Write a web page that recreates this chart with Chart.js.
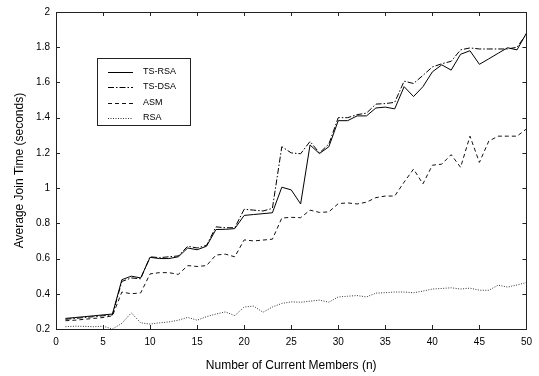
<!DOCTYPE html>
<html>
<head>
<meta charset="utf-8">
<script src="https://cdn.jsdelivr.net/npm/chart.js@4/dist/chart.umd.min.js"></script>
<style>
html,body{margin:0;padding:0;background:#fff;}
#wrap{width:539px;height:376px;}
</style>
</head>
<body>
<div id="wrap"><canvas id="c" width="539" height="376"></canvas></div>
<script>
const members = [1,2,3,4,5,6,7,8,9,10,11,12,13,14,15,16,17,18,19,20,21,22,23,24,25,26,27,28,29,30,31,32,33,34,35,36,37,38,39,40,41,42,43,44,45,46,47,48,49,50];
const tsRsa = [0.26,0.265,0.27,0.275,0.28,0.285,0.48,0.50,0.49,0.607,0.60,0.60,0.61,0.66,0.65,0.67,0.765,0.766,0.77,0.845,0.85,0.855,0.86,1.005,0.99,0.91,1.245,1.196,1.235,1.383,1.383,1.41,1.41,1.455,1.46,1.45,1.576,1.52,1.576,1.66,1.70,1.67,1.76,1.78,1.703,1.734,1.766,1.797,1.785,1.88];
const tsDsa = [0.255,0.26,0.265,0.27,0.275,0.28,0.47,0.49,0.485,0.61,0.605,0.61,0.615,0.67,0.66,0.675,0.78,0.775,0.775,0.88,0.875,0.87,0.885,1.235,1.20,1.195,1.265,1.20,1.25,1.40,1.40,1.417,1.426,1.477,1.48,1.487,1.607,1.594,1.64,1.688,1.706,1.72,1.785,1.796,1.79,1.79,1.79,1.79,1.80,1.875];
const asm = [0.247,0.25,0.255,0.26,0.265,0.275,0.41,0.40,0.405,0.513,0.52,0.52,0.51,0.56,0.555,0.56,0.62,0.625,0.61,0.706,0.70,0.705,0.71,0.83,0.834,0.832,0.875,0.862,0.865,0.912,0.916,0.91,0.92,0.946,0.955,0.955,1.034,1.108,1.024,1.13,1.136,1.19,1.118,1.295,1.146,1.267,1.295,1.295,1.295,1.336];
const rsa = [0.213,0.216,0.215,0.213,0.216,0.2,0.232,0.292,0.235,0.228,0.235,0.24,0.25,0.266,0.25,0.27,0.285,0.297,0.276,0.325,0.33,0.295,0.325,0.345,0.354,0.352,0.358,0.364,0.352,0.382,0.386,0.39,0.382,0.404,0.406,0.41,0.41,0.406,0.415,0.427,0.43,0.434,0.427,0.432,0.42,0.42,0.449,0.438,0.45,0.464];
const seriesNames = ['TS-RSA','TS-DSA','ASM','RSA'];
const xTicks = [0,5,10,15,20,25,30,35,40,45,50];
const yTicks = [0.2,0.4,0.6,0.8,1,1.2,1.4,1.6,1.8,2];
const xTitle = 'Number of Current Members (n)';
const yTitle = 'Average Join Time (seconds)';

const FONT = "'Liberation Sans', Arial, Helvetica, sans-serif";
const pts = arr => members.map((n,i)=>({x:n,y:arr[i]}));
const styles = [
  {borderColor:'#000', borderWidth:1, borderDash:[]},
  {borderColor:'#000', borderWidth:1, borderDash:[6,2,1.5,2]},
  {borderColor:'#111', borderWidth:1, borderDash:[4,3]},
  {borderColor:'#333', borderWidth:1, borderDash:[1,1.5]}
];
const allSeries = [tsRsa, tsDsa, asm, rsa];

const framePlugin = {
  id:'frame',
  afterDraw(chart){
    const {ctx, chartArea:a, scales:{x,y}} = chart;
    ctx.save();
    ctx.strokeStyle = '#222';
    ctx.lineWidth = 1;
    ctx.setLineDash([]);
    ctx.strokeRect(Math.round(a.left)+0.5, Math.round(a.top)+0.5, Math.round(a.right-a.left), Math.round(a.bottom-a.top));
    const L = 4;
    ctx.beginPath();
    x.ticks.forEach(t=>{
      const px = Math.round(x.getPixelForValue(t.value))+0.5;
      ctx.moveTo(px, a.bottom); ctx.lineTo(px, a.bottom-L);
      ctx.moveTo(px, a.top); ctx.lineTo(px, a.top+L);
    });
    y.ticks.forEach(t=>{
      const py = Math.round(y.getPixelForValue(t.value))+0.5;
      ctx.moveTo(a.left, py); ctx.lineTo(a.left+L, py);
      ctx.moveTo(a.right, py); ctx.lineTo(a.right-L, py);
    });
    ctx.stroke();

    // legend box
    const bx = 97.5, by = 58.5, bw = 93, bh = 67;
    ctx.fillStyle = '#fff';
    ctx.fillRect(bx, by, bw, bh);
    ctx.strokeStyle = '#222';
    ctx.strokeRect(bx, by, bw, bh);
    ctx.font = "9px " + FONT;
    ctx.textBaseline = 'middle';
    ctx.fillStyle = '#000';
    chart.data.datasets.forEach((ds,i)=>{
      const ry = 71.5 + i*15.5;
      ctx.beginPath();
      ctx.strokeStyle = ds.borderColor;
      ctx.lineWidth = ds.borderWidth;
      ctx.setLineDash(ds.borderDash);
      ctx.moveTo(108, Math.round(ry)+0.5);
      ctx.lineTo(133, Math.round(ry)+0.5);
      ctx.stroke();
      ctx.setLineDash([]);
      ctx.fillText(ds.label, 143, ry);
    });
    ctx.restore();
  }
};

new Chart(document.getElementById('c'), {
  type:'line',
  data:{
    datasets: allSeries.map((s,i)=>({
      label: seriesNames[i],
      data: pts(s),
      borderColor: styles[i].borderColor,
      borderWidth: styles[i].borderWidth,
      borderDash: styles[i].borderDash,
      pointRadius:0,
      tension:0,
      fill:false,
      clip:false
    }))
  },
  options:{
    responsive:false,
    animation:false,
    devicePixelRatio:1,
    layout:{padding:{left:0,top:9,right:10,bottom:0}},
    plugins:{legend:{display:false}, tooltip:{enabled:false}},
    scales:{
      x:{
        type:'linear', min:0, max:50,
        afterBuildTicks(s){ s.ticks = xTicks.map(v=>({value:v})); },
        afterFit(s){ s.height = 47; },
        grid:{display:false, drawTicks:false},
        border:{display:false},
        ticks:{padding:7, color:'#000', font:{family:FONT,size:10}, maxRotation:0, autoSkip:false,
          callback:v=>String(v)},
        title:{display:true, text:xTitle, color:'#000', font:{family:FONT,size:12}, padding:{top:0,bottom:3}}
      },
      y:{
        type:'linear', min:0.2, max:2,
        afterBuildTicks(s){ s.ticks = yTicks.map(v=>({value:v})); },
        afterFit(s){ s.width = 56; },
        grid:{display:false, drawTicks:false},
        border:{display:false},
        ticks:{padding:6, color:'#000', font:{family:FONT,size:10}, autoSkip:false,
          callback:v=>String(Number(v.toFixed(1)))},
        title:{display:true, text:yTitle, color:'#000', font:{family:FONT,size:12}, padding:{top:12,bottom:0}}
      }
    }
  },
  plugins:[framePlugin]
});
</script>
</body>
</html>
